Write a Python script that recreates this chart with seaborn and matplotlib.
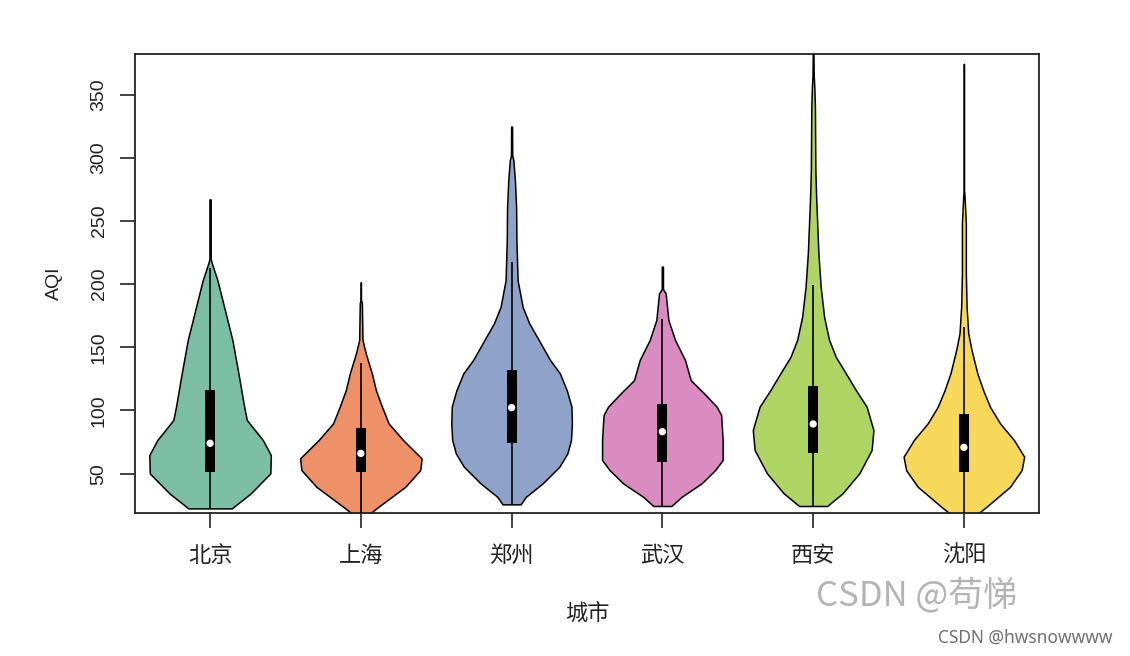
import matplotlib
matplotlib.use('Agg')
import matplotlib.pyplot as plt
import seaborn as sns

# cities and summary values
cities = ['北京', '上海', '郑州', '武汉', '西安', '沈阳']
q1 = [51.5, 51.5, 74.0, 59.4, 66.0, 51.5]
medians = [74.0, 66.0, 102.2, 83.2, 89.3, 70.8]
q3 = [116.2, 85.9, 131.9, 105.0, 119.3, 97.2]
whisker_hi = [213.0, 137.5, 217.7, 172.0, 199.0, 166.0]

# violin outlines: AQI level and half-width at that level
bj_levels = [22.5, 34.4, 50.2, 64.7, 76.6, 92.4, 103, 129.4, 155.8, 182, 203,
             216.7, 220, 267]
bj_widths = [0.144, 0.27, 0.40, 0.403, 0.35, 0.244, 0.226, 0.188, 0.148, 0.093,
             0.049, 0.011, 0.004, 0.004]
sh_levels = [18, 23.8, 39.6, 52.8, 62.1, 76.6, 89.8, 103, 116, 129.4, 145,
             155.8, 185, 188, 201.4]
sh_widths = [0.055, 0.117, 0.295, 0.394, 0.403, 0.28, 0.184, 0.14, 0.1, 0.073,
             0.033, 0.011, 0.007, 0.0, 0.0]
zz_levels = [25.7, 31.7, 42.3, 55.5, 66, 76.6, 89.8, 103, 116, 129.4, 140,
             155.8, 169, 182, 203, 234.7, 261, 282, 298, 302, 324.6]
zz_widths = [0.06, 0.095, 0.206, 0.317, 0.37, 0.394, 0.40, 0.397, 0.366, 0.32,
             0.255, 0.18, 0.117, 0.073, 0.04, 0.032, 0.03, 0.022, 0.012, 0.004,
             0.003]
wh_levels = [24.4, 31.7, 42.3, 52.8, 60.8, 76.6, 96.4, 103, 113.5, 124, 140,
             155.8, 171.6, 192.7, 196, 213.8]
wh_widths = [0.06, 0.128, 0.26, 0.35, 0.40, 0.40, 0.39, 0.36, 0.277, 0.188,
             0.15, 0.084, 0.04, 0.022, 0.004, 0.004]
xa_levels = [24.4, 34.4, 50.2, 68.7, 84.5, 103, 116, 129.4, 142.5, 155.8, 174,
             198, 224.4, 245.4, 269, 290, 340, 356, 365, 385]
xa_widths = [0.093, 0.195, 0.306, 0.388, 0.40, 0.355, 0.284, 0.217, 0.15,
             0.106, 0.073, 0.05, 0.035, 0.028, 0.02, 0.015, 0.012, 0.008,
             0.004, 0.002]
sy_levels = [18, 23.8, 39.6, 52.8, 63.4, 76.6, 89.8, 103, 116, 129.4, 147.8,
             161, 182, 208.5, 248, 270.5, 275, 374.2]
sy_widths = [0.089, 0.15, 0.306, 0.383, 0.40, 0.332, 0.24, 0.173, 0.128,
             0.089, 0.051, 0.029, 0.018, 0.013, 0.013, 0.004, 0.0, 0.0]

y_ticks = [50, 100, 150, 200, 250, 300, 350]

levels = [bj_levels, sh_levels, zz_levels, wh_levels, xa_levels, sy_levels]
widths = [bj_widths, sh_widths, zz_widths, wh_widths, xa_widths, sy_widths]
colors = ['#7BBEA5', '#EE9068', '#8FA2C9', '#DA8BC0', '#AED563', '#F8D85A']

sns.set_theme(style='ticks')
plt.rcParams['font.family'] = ['Liberation Sans', 'Noto Sans CJK SC',
                               'DejaVu Sans']

fig, ax = plt.subplots(figsize=(11.3, 6.56), dpi=100)
fig.subplots_adjust(left=0.1192, right=0.9197, bottom=0.2175, top=0.9177)

positions = list(range(1, len(cities) + 1))
for i, pos in enumerate(positions):
    lev = levels[i]
    w = widths[i]
    ax.fill_betweenx(lev, [pos - v for v in w], [pos + v for v in w],
                     facecolor=colors[i], edgecolor='black', linewidth=1.1,
                     zorder=2)
    ax.vlines(pos, lev[0], whisker_hi[i], color='black', linewidth=1.2,
              zorder=3)

ax.bar(positions, [b - a for a, b in zip(q1, q3)], bottom=q1, width=0.066,
       color='black', edgecolor='black', linewidth=0, zorder=4)
sns.scatterplot(x=positions, y=medians, ax=ax, color='white', s=28,
                edgecolor='none', zorder=5)

ax.set_xlim(0.5, 6.5)
ax.set_ylim(18.6, 382.1)
ax.set_xticks(positions, cities)
ax.set_yticks(y_ticks)
ax.tick_params(axis='both', direction='out', length=10.5, width=1.2,
               color='#222222', labelcolor='#222222')
ax.tick_params(axis='x', labelsize=16, pad=13)
ax.tick_params(axis='y', labelsize=14, pad=9, labelrotation=90)
for lab in ax.get_yticklabels():
    lab.set_va('center')
for sp in ax.spines.values():
    sp.set_visible(True)
    sp.set_color('#222222')
    sp.set_linewidth(1.3)

ax.set_xlabel('城市', fontsize=16, color='#222222', labelpad=26)
ax.set_ylabel('AQI', fontsize=14, color='#222222', labelpad=20)

fig.text(917 / 1130, 1 - 596 / 656, 'CSDN @苟悌', fontsize=25,
         color='#b4b4b4', ha='center', va='center',
         family=['Noto Sans CJK SC', 'DejaVu Sans'])
fig.text(1025 / 1130, 1 - 638 / 656, 'CSDN @hwsnowwww', fontsize=12.5,
         color='#707070', ha='center', va='center',
         family=['Noto Sans', 'DejaVu Sans'])

fig.savefig('out.png', dpi=100)
